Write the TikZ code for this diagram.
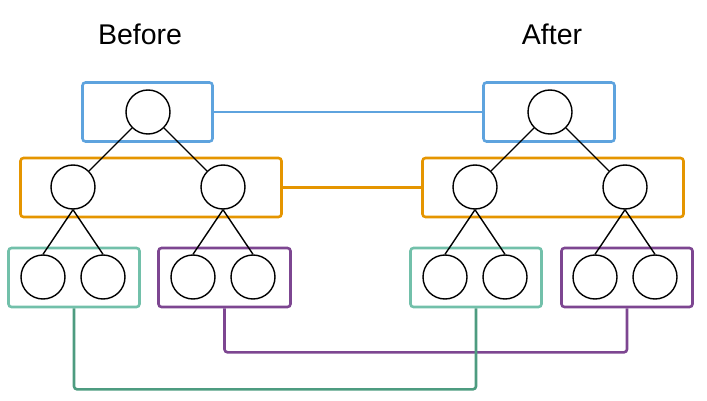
\documentclass[tikz,border=0pt]{standalone}
\usepackage{fontspec}
\setmainfont{Liberation Sans}
\definecolor{BlueClr}{RGB}{94,163,222}
\definecolor{OrangeClr}{RGB}{229,149,0}
\definecolor{TealClr}{RGB}{114,192,170}
\definecolor{TealDark}{RGB}{77,156,128}
\definecolor{PurpleClr}{RGB}{125,70,145}
\tikzset{
  vertex/.style={circle,draw=black,line width=1.4pt,minimum size=44pt,inner sep=0pt},
  level/.style={rectangle,draw=#1,line width=2.6pt,rounded corners=3pt,minimum height=59pt,inner sep=0pt},
  link/.style={line width=2.6pt,draw=#1,rounded corners=3pt},
  edge/.style={line width=1.4pt,draw=black},
  caption/.style={font=\fontsize{28.5}{30}\selectfont,inner sep=0pt}
}

\begin{document}
\begin{tikzpicture}[x=1pt,y=-1pt]
\useasboundingbox (0,0) rectangle (707,401);

\node[caption] (TB) at (140,34) {Before};
\node[caption] (TA) at (552,34) {After};

% level boxes
\node[level=BlueClr,minimum width=130pt] (BlueL) at (147.5,112) {};
\node[level=OrangeClr,minimum width=261pt] (OrangeL) at (151,187.5) {};
\node[level=TealClr,minimum width=131pt] (TealL) at (74,277.5) {};
\node[level=PurpleClr,minimum width=132pt] (PurpleL) at (224.5,277.5) {};

\node[level=BlueClr,minimum width=131pt] (BlueR) at (549,112) {};
\node[level=OrangeClr,minimum width=261pt] (OrangeR) at (553,187.5) {};
\node[level=TealClr,minimum width=131pt] (TealR) at (476,277.5) {};
\node[level=PurpleClr,minimum width=131pt] (PurpleR) at (627,277.5) {};

% before
\node[vertex] (B0) at (148,112) {};
\node[vertex] (B1) at (73,187) {};
\node[vertex] (B2) at (223,187) {};
\node[vertex] (B11) at (43,277) {};
\node[vertex] (B12) at (103,277) {};
\node[vertex] (B21) at (193,277) {};
\node[vertex] (B22) at (253,277) {};

% after
\node[vertex] (A0) at (550,112) {};
\node[vertex] (A1) at (475,187) {};
\node[vertex] (A2) at (625,187) {};
\node[vertex] (A11) at (445,277) {};
\node[vertex] (A12) at (505,277) {};
\node[vertex] (A21) at (595,277) {};
\node[vertex] (A22) at (655,277) {};

\foreach \t in {B,A}{
  \draw[edge] (\t0) -- (\t1);
  \draw[edge] (\t0) -- (\t2);
  \draw[edge] (\t1.south) -- (\t11.north);
  \draw[edge] (\t1.south) -- (\t12.north);
  \draw[edge] (\t2.south) -- (\t21.north);
  \draw[edge] (\t2.south) -- (\t22.north);
}

% links between the two trees
\draw[link=BlueClr] (BlueL.east) -- (BlueR.west);
\draw[link=OrangeClr] (OrangeL.east) -- (OrangeR.west);
\draw[link=PurpleClr] (PurpleL.south) -- ++(0,44) -| (PurpleR.south);
\draw[link=TealDark] (TealL.south) -- ++(0,81) -| (TealR.south);

\end{tikzpicture}
\end{document}
